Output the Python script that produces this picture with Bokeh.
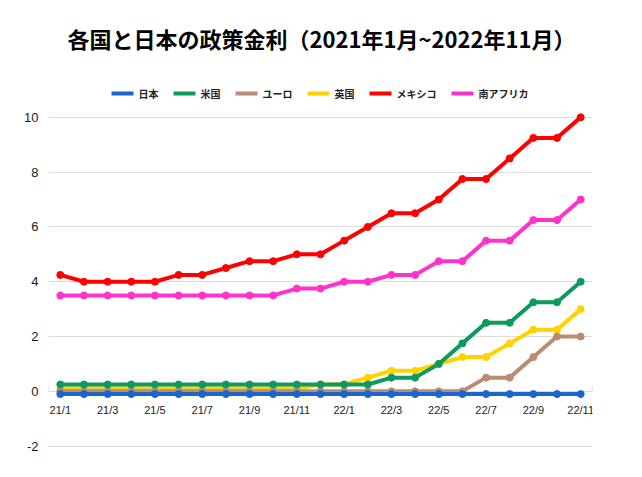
from bokeh.plotting import figure
from bokeh.models import Range1d, Legend, LegendItem, FixedTicker, Label
from bokeh.core.properties import value
from bokeh.embed import file_html
from bokeh.resources import INLINE

months = ["21/1", "21/2", "21/3", "21/4", "21/5", "21/6", "21/7", "21/8", "21/9", "21/10", "21/11", "21/12",
          "22/1", "22/2", "22/3", "22/4", "22/5", "22/6", "22/7", "22/8", "22/9", "22/10", "22/11"]
tick_labels = ["21/1", "21/3", "21/5", "21/7", "21/9", "21/11", "22/1", "22/3", "22/5", "22/7", "22/9", "22/11"]
y_ticks = [-2, 0, 2, 4, 6, 8, 10]

japan = [-0.1, -0.1, -0.1, -0.1, -0.1, -0.1, -0.1, -0.1, -0.1, -0.1, -0.1, -0.1,
         -0.1, -0.1, -0.1, -0.1, -0.1, -0.1, -0.1, -0.1, -0.1, -0.1, -0.1]
usa = [0.25, 0.25, 0.25, 0.25, 0.25, 0.25, 0.25, 0.25, 0.25, 0.25, 0.25, 0.25,
       0.25, 0.25, 0.5, 0.5, 1.0, 1.75, 2.5, 2.5, 3.25, 3.25, 4.0]
euro = [0.0, 0.0, 0.0, 0.0, 0.0, 0.0, 0.0, 0.0, 0.0, 0.0, 0.0, 0.0,
        0.0, 0.0, 0.0, 0.0, 0.0, 0.0, 0.5, 0.5, 1.25, 2.0, 2.0]
uk = [0.1, 0.1, 0.1, 0.1, 0.1, 0.1, 0.1, 0.1, 0.1, 0.1, 0.1, 0.25,
      0.25, 0.5, 0.75, 0.75, 1.0, 1.25, 1.25, 1.75, 2.25, 2.25, 3.0]
mexico = [4.25, 4.0, 4.0, 4.0, 4.0, 4.25, 4.25, 4.5, 4.75, 4.75, 5.0, 5.0,
          5.5, 6.0, 6.5, 6.5, 7.0, 7.75, 7.75, 8.5, 9.25, 9.25, 10.0]
safrica = [3.5, 3.5, 3.5, 3.5, 3.5, 3.5, 3.5, 3.5, 3.5, 3.5, 3.75, 3.75,
           4.0, 4.0, 4.25, 4.25, 4.75, 4.75, 5.5, 5.5, 6.25, 6.25, 7.0]

names = ["日本", "米国", "ユーロ", "英国", "メキシコ", "南アフリカ"]
series = [japan, usa, euro, uk, mexico, safrica]
colors = ["#1a66cc", "#0e9a5c", "#bb8b73", "#ffd200", "#ff0000", "#ff33cc"]
title_text = "各国と日本の政策金利（2021年1月~2022年11月）"

x = list(range(len(months)))
n = len(months)

# frame geometry (pixels)
px_per_unit = 27.4
y_min = -2.05
frame_h = 439
y_max = y_min + frame_h / px_per_unit

p = figure(width=626, height=460, title=None,
           x_range=Range1d(-0.5, n - 0.5), y_range=Range1d(y_min, y_max),
           output_backend="svg", toolbar_location=None,
           min_border_left=48, min_border_right=34, min_border_bottom=13, min_border_top=8)

p.outline_line_color = None
p.xaxis.visible = False
p.xgrid.visible = False
p.ygrid.ticker = FixedTicker(ticks=y_ticks)
p.ygrid.grid_line_color = "#dddddd"
p.ygrid.grid_line_width = 1
p.yaxis.ticker = FixedTicker(ticks=y_ticks)
p.yaxis.major_label_overrides = {-2: "-2"}
p.yaxis.axis_line_color = None
p.yaxis.major_tick_line_color = None
p.yaxis.minor_tick_line_color = None
p.yaxis.major_label_standoff = 4
p.yaxis.major_label_text_font = "Liberation Sans"
p.yaxis.major_label_text_font_size = "13px"
p.yaxis.major_label_text_color = "#1a1a1a"

# small end ticks of the zero line
p.segment(x0=[-0.5, n - 0.5], y0=[0, 0], x1=[-0.5, n - 0.5], y1=[0.18, 0.18],
          line_color="#cccccc", line_width=1)

# title
p.add_layout(Label(x=(n - 1) / 2, y=y_max - 29 / px_per_unit, text=title_text,
                   text_align="center", text_baseline="middle", x_offset=1,
                   text_font="Noto Sans CJK JP", text_font_size="22px",
                   text_font_style="bold", text_color="#000000"))

# x tick labels along the zero line
tick_x = [months.index(t) for t in tick_labels]
p.text(x=tick_x, y=[0] * len(tick_x), text=tick_labels,
       text_align="center", text_baseline="middle", y_offset=19,
       text_font=value("Liberation Sans"), text_font_size="11px",
       text_color="#222222")

line_renderers = {}
for name, vals, col in reversed(list(zip(names, series, colors))):
    r = p.line(x, vals, line_color=col, line_width=4, line_cap="round", line_join="round")
    p.scatter(x, vals, size=7, fill_color=col, line_color=col)
    line_renderers[name] = r

legend = Legend(items=[LegendItem(label=nm, renderers=[line_renderers[nm]]) for nm in names],
                orientation="horizontal", location="top_center",
                border_line_color=None, background_fill_alpha=0,
                glyph_width=22, glyph_height=20, label_standoff=5, spacing=15,
                padding=0, margin=75,
                label_text_font="Noto Sans CJK JP", label_text_font_size="10px",
                label_text_font_style="bold", label_text_color="#222222")
p.add_layout(legend, "center")

open("out.html", "w").write(file_html(p, INLINE))
